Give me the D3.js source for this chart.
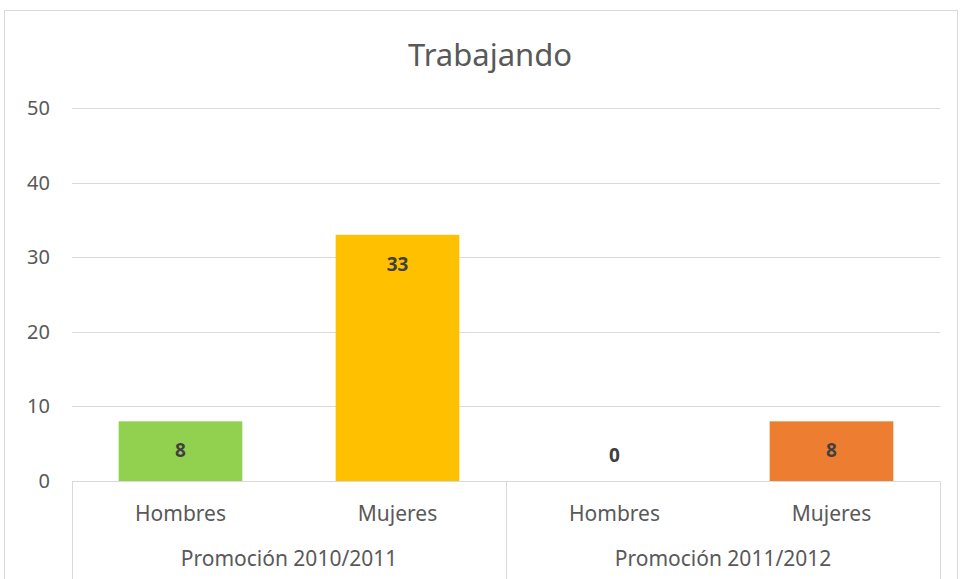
<!DOCTYPE html>
<html>
<head>
<meta charset="utf-8">
<script src="https://cdn.jsdelivr.net/npm/d3@7"></script>
<style>
  body { margin: 0; background: #fff; }
  svg { display: block; font-family: 'Noto Sans', 'Open Sans', sans-serif; }
</style>
</head>
<body>
<svg id="chart"></svg>
<script>
// data
const groups = ['Promoción 2010/2011', 'Promoción 2011/2012'];
const subCats = ['Hombres', 'Mujeres'];
const values = [8, 33, 0, 8];
const barColors = ['#92D050', '#FFC000', '#92D050', '#ED7D31'];
const yTicks = [0, 10, 20, 30, 40, 50];
const title = 'Trabajando';

const width = 963;
const height = 579;
const margin = {top: 108, right: 23, bottom: 98, left: 72};
const fontFam = "'Noto Sans', 'Open Sans', sans-serif";

const svg = d3.select('#chart')
  .attr('width', width)
  .attr('height', height);

// chart area border
svg.append('rect')
  .attr('x', 4.5).attr('y', 10.5)
  .attr('width', 953).attr('height', 600)
  .attr('fill', '#fff')
  .attr('stroke', '#d9d9d9');

// flatten categories
const cats = [];
groups.forEach((g, gi) => {
  subCats.forEach((s, si) => {
    const i = gi * subCats.length + si;
    cats.push({key: i, group: g, sub: s, value: values[i], color: barColors[i]});
  });
});

const x = d3.scaleBand()
  .domain(cats.map(d => d.key))
  .range([margin.left, width - margin.right])
  .paddingInner(0.43)
  .paddingOuter(0.215);

const y = d3.scaleLinear()
  .domain([0, 50])
  .range([height - margin.bottom, margin.top]);

// gridlines
svg.append('g')
  .selectAll('line')
  .data(yTicks.filter(t => t > 0))
  .enter().append('line')
  .attr('x1', margin.left).attr('x2', width - margin.right)
  .attr('y1', d => Math.round(y(d)) + 0.5).attr('y2', d => Math.round(y(d)) + 0.5)
  .attr('stroke', '#d9d9d9');

// y axis labels
const yAxis = d3.axisLeft(y).tickValues(yTicks).tickSize(0).tickPadding(22);
const yAxisG = svg.append('g')
  .attr('transform', `translate(${margin.left}, 0)`)
  .call(yAxis)
  .attr('font-family', fontFam)
  .attr('font-size', 20);
yAxisG.select('.domain').remove();
yAxisG.selectAll('text')
  .attr('fill', '#595959');

// bars
svg.append('g')
  .selectAll('rect')
  .data(cats)
  .enter().append('rect')
  .attr('x', d => x(d.key))
  .attr('y', d => y(d.value))
  .attr('width', x.bandwidth())
  .attr('height', d => y(0) - y(d.value))
  .attr('fill', d => d.color);

// value labels
svg.append('g')
  .selectAll('text')
  .data(cats)
  .enter().append('text')
  .attr('x', d => x(d.key) + x.bandwidth() / 2)
  .attr('y', d => d.value > 0 ? y(d.value) + 36 : y(0) - 19)
  .attr('text-anchor', 'middle')
  .attr('fill', '#404040')
  .style('font-size', '19px')
  .style('font-weight', 'bold')
  .text(d => d.value);

// category axis
const base = Math.round(y(0)) + 0.5;
const axisG = svg.append('g');
axisG.append('line')
  .attr('x1', margin.left).attr('x2', width - margin.right)
  .attr('y1', base).attr('y2', base)
  .attr('stroke', '#d9d9d9');

const step = x.step();
const groupW = step * subCats.length;
const sepX = d3.range(groups.length + 1).map(i => Math.round(margin.left + i * groupW) + 0.5);
axisG.selectAll('line.sep')
  .data(sepX)
  .enter().append('line')
  .attr('class', 'sep')
  .attr('x1', d => d).attr('x2', d => d)
  .attr('y1', base).attr('y2', 579)
  .attr('stroke', '#d9d9d9');

axisG.selectAll('text.sub')
  .data(cats)
  .enter().append('text')
  .attr('class', 'sub')
  .attr('x', d => x(d.key) + x.bandwidth() / 2)
  .attr('y', base + 39)
  .attr('text-anchor', 'middle')
  .attr('fill', '#595959')
  .style('font-size', '21px')
  .text(d => d.sub);

axisG.selectAll('text.grp')
  .data(groups)
  .enter().append('text')
  .attr('class', 'grp')
  .attr('x', (d, i) => margin.left + (i + 0.5) * groupW)
  .attr('y', base + 84)
  .attr('text-anchor', 'middle')
  .attr('fill', '#595959')
  .style('font-size', '21px')
  .text(d => d);

// title
svg.append('text')
  .attr('x', 490)
  .attr('y', 66)
  .attr('text-anchor', 'middle')
  .attr('fill', '#595959')
  .style('font-size', '31px')
  .text(title);
</script>
</body>
</html>
